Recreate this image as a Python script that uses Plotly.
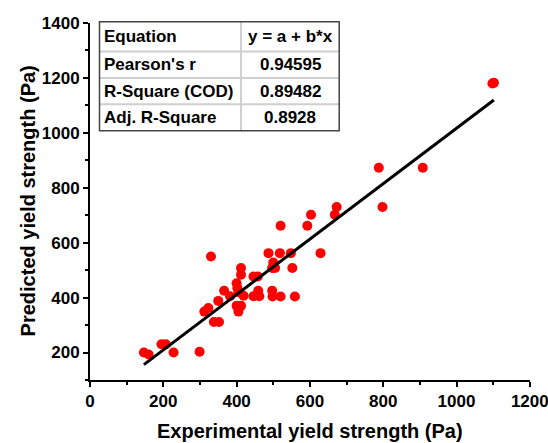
import plotly.graph_objects as go

# ---------------- data ----------------
experimental = [147, 160, 195, 207, 228, 299, 312, 323, 338, 352,
                330, 350, 366, 382, 400, 402, 405, 412, 412, 400,
                412, 405, 419, 446, 458, 446, 459, 462, 487, 518,
                548, 500, 505, 497, 552, 497, 498, 520, 559, 629,
                520, 593, 603, 668, 673, 798, 788, 908, 1098, 1102]
predicted = [200, 193, 230, 230, 200, 203, 349, 362, 311, 311,
             550, 388, 425, 405, 452, 435, 420, 508, 483, 370,
             370, 349, 407, 477, 477, 405, 425, 405, 562, 562,
             562, 528, 508, 508, 508, 425, 404, 404, 404, 562,
             662, 662, 702, 702, 730, 730, 873, 873, 1180, 1182]

fit_intercept = 7.6
fit_slope = 1.009

table_labels = ["Equation", "Pearson's r", "R-Square (COD)", "Adj. R-Square"]
table_values = ["y = a + b*x", "0.94595", "0.89482", "0.8928"]

x_ticks = [0, 200, 400, 600, 800, 1000, 1200]
x_minor = [100, 300, 500, 700, 900, 1100]
y_ticks = [200, 400, 600, 800, 1000, 1200, 1400]
y_minor = [100, 300, 500, 700, 900, 1100, 1300]

x_title = "Experimental yield strength (Pa)"
y_title = "Predicted yield strength (Pa)"

# ---------------- figure ----------------
W, H = 548, 443
L, R, T, B = 89.5, 530.0, 23.3, 380.0
FONT = "Liberation Sans, Arial, sans-serif"

fx0, fx1 = min(experimental), max(experimental)
fig = go.Figure()
fig.add_trace(go.Scatter(
    x=experimental, y=predicted, mode="markers",
    marker=dict(size=10, color="#ff0000", line=dict(width=0)),
    showlegend=False, hoverinfo="skip", cliponaxis=False))
fig.add_trace(go.Scatter(
    x=[fx0, fx1], y=[fit_intercept + fit_slope * fx0, fit_intercept + fit_slope * fx1],
    mode="lines", line=dict(color="black", width=3),
    showlegend=False, hoverinfo="skip"))


def px(xp):
    return (xp - L) / (R - L)


def py(yp):
    return (B - yp) / (B - T)


# table geometry (pixels)
tx0, tx1, tdiv = 99, 339, 240.7
rows = [22, 51.7, 78.3, 104.5, 131]
shapes = []
for yb in rows[1:-1]:
    shapes.append(dict(type="line", xref="paper", yref="paper",
                       x0=px(tx0), x1=px(tx1), y0=py(yb), y1=py(yb),
                       line=dict(color="#cfcfcf", width=2)))
shapes.append(dict(type="line", xref="paper", yref="paper",
                   x0=px(tdiv), x1=px(tdiv), y0=py(rows[0]), y1=py(rows[-1]),
                   line=dict(color="#cfcfcf", width=2)))
shapes.append(dict(type="rect", xref="paper", yref="paper",
                   x0=px(tx0), x1=px(tx1), y0=py(rows[-1]), y1=py(rows[0]),
                   line=dict(color="#444444", width=1.5)))

annotations = []
for i, (lab, val) in enumerate(zip(table_labels, table_values)):
    yc = (rows[i] + rows[i + 1]) / 2
    annotations.append(dict(xref="paper", yref="paper", x=px(102), y=py(yc),
                            text=lab, showarrow=False, xanchor="left", yanchor="middle",
                            font=dict(family=FONT, size=17, color="black", weight="bold")))
    annotations.append(dict(xref="paper", yref="paper", x=px((tdiv + tx1) / 2), y=py(yc),
                            text=val, showarrow=False, xanchor="center", yanchor="middle",
                            font=dict(family=FONT, size=17, color="black", weight="bold")))

# axis titles as annotations (fixed pixel positions)
annotations.append(dict(xref="paper", yref="paper", x=px((L + R) / 2), y=py(431),
                        text=x_title, showarrow=False, xanchor="center", yanchor="middle",
                        font=dict(family=FONT, size=20, color="black", weight="bold")))
annotations.append(dict(xref="paper", yref="paper", x=px(27), y=py(201),
                        text=y_title, showarrow=False, xanchor="center", yanchor="middle",
                        textangle=-90,
                        font=dict(family=FONT, size=20, color="black", weight="bold")))

axis_common = dict(
    showline=True, linecolor="black", linewidth=2,
    ticks="outside", ticklen=5, tickwidth=2, tickcolor="black",
    showgrid=False, zeroline=False, mirror=False, automargin=False,
    ticklabeloverflow="allow",
    tickfont=dict(family=FONT, size=17, color="black", weight="bold"),
)

fig.update_layout(
    width=W, height=H,
    margin=dict(l=L, r=W - R, t=T, b=H - B, pad=0, autoexpand=False),
    paper_bgcolor="white", plot_bgcolor="white",
    xaxis=dict(range=[0, 1200.5], tickmode="array", tickvals=x_ticks,
               minor=dict(ticks="outside", ticklen=3, tickwidth=2,
                          tickvals=x_minor, tickcolor="black"),
               **axis_common),
    yaxis=dict(range=[100, 1400], tickmode="array", tickvals=y_ticks,
               minor=dict(ticks="outside", ticklen=3, tickwidth=2,
                          tickvals=y_minor, tickcolor="black"),
               **axis_common),
    shapes=shapes, annotations=annotations,
)

fig.write_html("out.html")
